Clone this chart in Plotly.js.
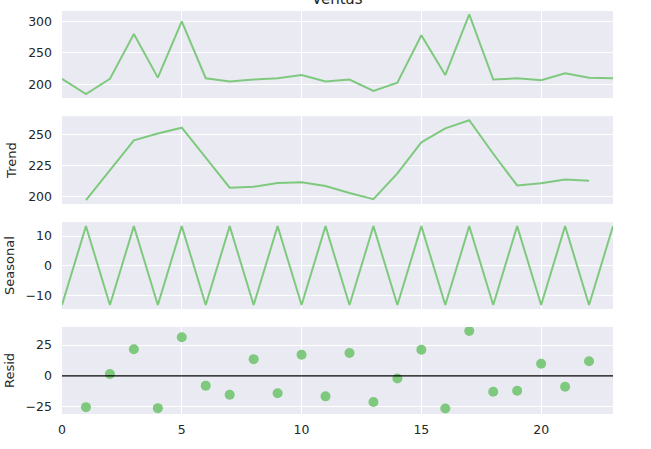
<!DOCTYPE html>
<html>
<head>
<meta charset="utf-8">
<script src="https://cdn.plot.ly/plotly-3.0.1.min.js"></script>
<style>html,body{margin:0;padding:0;background:#fff;}#chart{width:651px;height:449px;}</style>
</head>
<body>
<div id="chart"></div>
<script>
// x positions (index)
const xIndex = [0,1,2,3,4,5,6,7,8,9,10,11,12,13,14,15,16,17,18,19,20,21,22,23];
// Observed (Ventas)
const ventas = [209,185,209,280,211,300,210,205,208,210,215,205,208,190,203,278,215,311,208,210,207,218,211,210];
// Trend (undefined at both ends)
const trend = [null,197,220.75,245,250.5,255.25,231.25,207,207.75,210.75,211.25,208.25,202.75,197.75,218.5,243.5,254.75,261.25,234.25,208.75,210.5,213.5,212.5,null];
// Seasonal
const seasonal = [-13.35,13.35,-13.35,13.35,-13.35,13.35,-13.35,13.35,-13.35,13.35,-13.35,13.35,-13.35,13.35,-13.35,13.35,-13.35,13.35,-13.35,13.35,-13.35,13.35,-13.35,13.35];
// Residuals
const resid = [null,-25.35,1.6,21.65,-26.15,31.4,-7.9,-15.35,13.6,-14.1,17.1,-16.6,18.6,-21.1,-2.15,21.15,-26.4,36.4,-12.9,-12.1,9.85,-8.85,11.85,null];
// Tick values
const xTicks = [0,5,10,15,20];
const ventasTicks = [200,250,300];
const trendTicks = [200,225,250];
const seasonalTicks = [-10,0,10];
const residTicks = [-25,0,25];

const green = 'rgb(127,201,127)';
const fontFam = 'DejaVu Sans, sans-serif';
const tickFont = {family: fontFam, size: 12.5, color: '#262626'};

const lineTrace = (y, ax) => ({x: xIndex, y: y, type: 'scatter', mode: 'lines',
  line: {color: green, width: 2}, xaxis: 'x' + ax, yaxis: 'y' + ax, hoverinfo: 'skip', connectgaps: false});

const traces = [
  lineTrace(ventas, ''),
  lineTrace(trend, '2'),
  lineTrace(seasonal, '3'),
  {x: xIndex, y: resid, type: 'scatter', mode: 'markers',
   marker: {color: green, size: 10, line: {width: 0}}, xaxis: 'x4', yaxis: 'y4', hoverinfo: 'skip'}
];

function xa(showLabels, anchor) {
  return {range: [0, 23], tickvals: xTicks, showticklabels: showLabels, ticks: '',
    showgrid: true, gridcolor: '#ffffff', gridwidth: 1, zeroline: false, showline: false,
    tickfont: tickFont, anchor: anchor, matches: anchor === 'y' ? undefined : 'x', ticklabelstandoff: 6};
}
function ya(domain, range, tickvals, title, anchor) {
  return {domain: domain, range: range, tickvals: tickvals, ticks: '', showgrid: true,
    gridcolor: '#ffffff', gridwidth: 1, zeroline: false, showline: false,
    tickfont: tickFont, anchor: anchor, ticklabelstandoff: 9,
    title: title ? {text: title, font: {family: fontFam, size: 13, color: '#262626'}, standoff: 8} : undefined};
}

const layout = {
  width: 651, height: 449,
  paper_bgcolor: '#ffffff', plot_bgcolor: '#EAEAF2',
  margin: {l: 62, r: 38, t: 11, b: 35},
  showlegend: false,
  title: {text: 'Ventas', font: {family: fontFam, size: 15, color: '#262626'},
          x: 0.518, xanchor: 'center', y: 0.991, yanchor: 'bottom', yref: 'container'},
  xaxis: xa(false, 'y'),
  xaxis2: xa(false, 'y2'),
  xaxis3: xa(false, 'y3'),
  xaxis4: xa(true, 'y4'),
  yaxis: ya([0.784, 1.0], [178.75, 316.25], ventasTicks, null, 'x'),
  yaxis2: ya([0.521, 0.739], [193.8, 264.5], trendTicks, 'Trend', 'x2'),
  yaxis3: ya([0.2605, 0.476], [-14.7, 14.7], seasonalTicks, 'Seasonal', 'x3'),
  yaxis4: ya([0, 0.216], [-30.9, 39.7], residTicks, 'Resid', 'x4'),
  shapes: [{type: 'line', xref: 'x4 domain', yref: 'y4', x0: 0, x1: 1, y0: 0, y1: 0,
            line: {color: '#000000', width: 1.3}, layer: 'above'}]
};

Plotly.newPlot('chart', traces, layout, {staticPlot: true, displayModeBar: false});
</script>
</body>
</html>
